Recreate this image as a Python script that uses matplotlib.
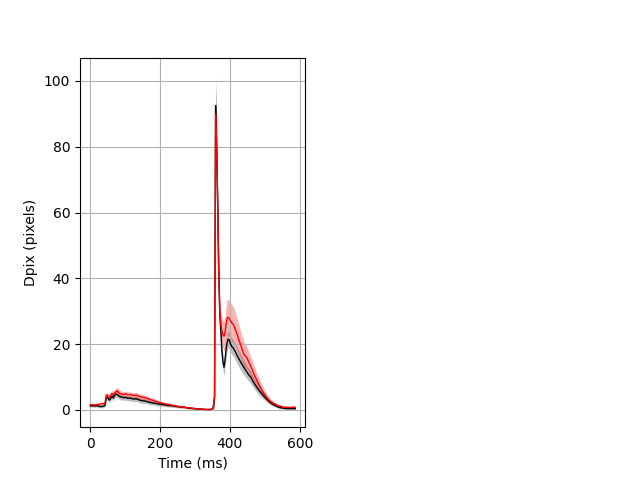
import numpy as np
import matplotlib
matplotlib.use('Agg')
import matplotlib.pyplot as plt

# Time axis (ms)
t = [0, 6, 12, 18, 24, 30, 36, 42, 46, 50,
     54, 58, 62, 66, 70, 74, 78, 82, 86, 90,
     96, 102, 108, 114, 120, 126, 132, 138, 144, 150,
     160, 170, 180, 190, 200, 210, 220, 230, 240, 250,
     260, 270, 280, 290, 300, 310, 320, 330, 340, 348,
     352, 356, 359, 362, 365, 368, 371, 374, 377, 380,
     383, 386, 389, 392, 395, 398, 402, 406, 410, 415,
     420, 425, 430, 435, 440, 445, 450, 455, 460, 465,
     470, 475, 480, 486, 492, 498, 504, 510, 516, 522,
     528, 534, 540, 548, 556, 564, 572, 580, 587]

# Mean displacement, black condition
black = [1.2, 1.3, 1.2, 1.3, 1.1, 1.0, 1.1, 1.3, 3.6, 3.9,
         3.0, 3.4, 4.2, 3.6, 4.5, 4.8, 4.6, 4.2, 4.0, 3.9,
         3.7, 3.8, 3.5, 3.6, 3.4, 3.3, 3.4, 3.1, 2.9, 2.8,
         2.6, 2.3, 2.1, 1.9, 1.7, 1.6, 1.4, 1.3, 1.2, 1.0,
         0.9, 0.8, 0.6, 0.5, 0.4, 0.3, 0.2, 0.15, 0.1, 0.2,
         0.6, 4.0, 92.5, 80, 62, 42, 29, 24, 18, 14.5,
         13, 15, 18.5, 20.5, 21.5, 21.3, 20, 19.2, 18.8, 17.8,
         16.7, 15.7, 14.7, 13.8, 12.9, 12.1, 11.3, 10.5, 9.9, 8.9,
         8.0, 7.2, 6.4, 5.6, 4.8, 4.1, 3.4, 2.8, 2.2, 1.8,
         1.4, 1.1, 0.8, 0.6, 0.5, 0.4, 0.4, 0.4, 0.4]

black_sd = [0.4, 0.4, 0.4, 0.4, 0.4, 0.4, 0.4, 0.4, 0.8, 0.8,
            0.8, 0.8, 0.9, 0.9, 0.9, 1.0, 1.0, 0.9, 0.9, 0.9,
            0.8, 0.8, 0.8, 0.8, 0.8, 0.8, 0.8, 0.8, 0.8, 0.8,
            0.7, 0.7, 0.6, 0.6, 0.6, 0.5, 0.5, 0.5, 0.4, 0.4,
            0.3, 0.3, 0.3, 0.3, 0.3, 0.3, 0.3, 0.3, 0.2, 0.3,
            0.5, 3.0, 9.5, 8.0, 6.0, 4.0, 3.0, 3.0, 2.5, 2.5,
            2.5, 2.5, 2.5, 2.5, 2.5, 2.5, 2.5, 2.5, 2.5, 2.5,
            2.5, 2.5, 2.5, 2.4, 2.3, 2.2, 2.1, 2.0, 1.9, 1.8,
            1.7, 1.6, 1.5, 1.3, 1.2, 1.0, 0.9, 0.8, 0.7, 0.6,
            0.5, 0.4, 0.4, 0.3, 0.3, 0.3, 0.3, 0.3, 0.3]

# Mean displacement, red condition
red = [1.5, 1.6, 1.5, 1.6, 1.7, 1.8, 1.9, 2.0, 4.6, 4.2,
       3.7, 4.4, 5.0, 4.6, 5.2, 5.6, 5.8, 5.2, 5.0, 4.8,
       4.7, 4.9, 4.6, 4.7, 4.5, 4.4, 4.5, 4.2, 4.0, 3.9,
       3.6, 3.2, 2.9, 2.5, 2.2, 1.9, 1.7, 1.5, 1.3, 1.1,
       0.9, 0.8, 0.7, 0.5, 0.4, 0.3, 0.2, 0.15, 0.1, 0.2,
       0.6, 4.0, 90, 80, 62, 42, 30, 26, 24, 22.8,
       22.4, 23.5, 26, 27.8, 28.2, 27.8, 27.0, 26.4, 25.9, 24.6,
       23.2, 21.5, 20.0, 18.4, 16.9, 16.3, 15.6, 14.3, 13.2, 11.9,
       10.6, 9.5, 8.4, 7.1, 5.9, 4.9, 4.0, 3.2, 2.6, 2.2,
       1.8, 1.5, 1.2, 1.0, 0.8, 0.8, 0.7, 0.8, 0.8]

red_sd = [0.4, 0.4, 0.4, 0.4, 0.4, 0.4, 0.4, 0.4, 0.9, 0.9,
          0.9, 0.9, 1.0, 1.0, 1.0, 1.1, 1.1, 1.0, 0.9, 0.9,
          0.8, 0.8, 0.8, 0.8, 0.8, 0.8, 0.8, 0.8, 0.8, 0.8,
          0.8, 0.7, 0.7, 0.6, 0.6, 0.5, 0.5, 0.4, 0.4, 0.4,
          0.3, 0.3, 0.3, 0.3, 0.3, 0.3, 0.3, 0.3, 0.2, 0.3,
          0.5, 3.0, 8.0, 7.0, 6.0, 5.0, 4.0, 4.0, 4.0, 4.0,
          4.5, 5.0, 5.5, 5.5, 5.5, 5.5, 5.5, 5.5, 5.5, 5.0,
          4.8, 4.5, 4.2, 4.0, 3.8, 3.6, 3.4, 3.2, 3.0, 2.8,
          2.5, 2.3, 2.0, 1.8, 1.6, 1.3, 1.1, 0.9, 0.8, 0.7,
          0.6, 0.5, 0.5, 0.4, 0.4, 0.4, 0.4, 0.4, 0.4]

t = np.array(t)
black = np.array(black)
black_sd = np.array(black_sd)
red = np.array(red)
red_sd = np.array(red_sd)

fig = plt.figure(figsize=(6.4, 4.8), dpi=100)
ax = plt.subplot(1, 2, 1)

ax.fill_between(t, black - black_sd, black + black_sd, color='k', alpha=0.25, linewidth=0)
ax.plot(t, black, color='k', linewidth=1)
ax.fill_between(t, red - red_sd, red + red_sd, color='r', alpha=0.3, linewidth=0)
ax.plot(t, red, color='r', linewidth=1)

ax.set_xlabel('Time (ms)')
ax.set_ylabel('Dpix (pixels)')
ax.grid(True)

plt.savefig('out.png', dpi=100)
